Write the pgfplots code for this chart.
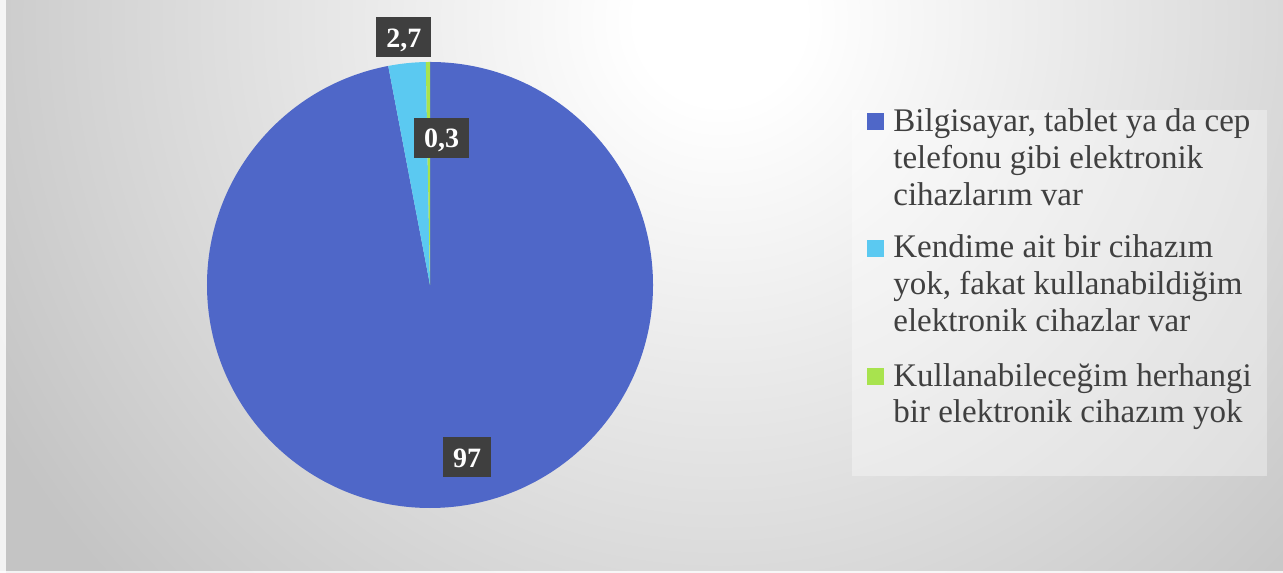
\documentclass[border=0pt]{standalone}
\usepackage{pgfplots}
\pgfplotsset{compat=1.18}
\usepackage{pgfplotstable}
\usepackage{fontspec}
\setmainfont{Liberation Serif}
\definecolor{pieblue}{HTML}{4F67C8}
\definecolor{piecyan}{HTML}{5BC9F1}
\definecolor{piegreen}{HTML}{A8E34E}
\definecolor{lblbox}{HTML}{3F3F3F}
\definecolor{legtext}{HTML}{404040}
\definecolor{bggray}{HTML}{C4C4C4}
\pgfdeclareradialshading{bgshade}{\pgfpointorigin}{color(0bp)=(white); color(2.5bp)=(white); color(25bp)=(bggray); color(50bp)=(bggray)}

\pgfplotstableread{
value
97
2.7
0.3
}\piedata

\pgfplotstableread{
x y lab
0.166 -0.773 97
-0.117 1.110 2,7
0.052 0.659 0,3
}\pielabels

\begin{document}
\begin{tikzpicture}[x=0.5bp,y=0.5bp]
% background
\fill[bggray] (0,0) rectangle (1283,573);
\begin{scope}
\clip (0,0) rectangle (1283,573);
\shade[shading=bgshade] (720,553) circle (830);
\end{scope}
\fill[white,opacity=0.8] (0,0) rectangle (6,573);
\fill[white,opacity=0.8] (0,0) rectangle (1283,2);

% cumulative angles from the data
\pgfplotstablegetelem{0}{value}\of\piedata \let\vA\pgfplotsretval
\pgfplotstablegetelem{1}{value}\of\piedata \let\vB\pgfplotsretval
\pgfplotstablegetelem{2}{value}\of\piedata \let\vC\pgfplotsretval
\pgfmathsetmacro\tot{\vA+\vB+\vC}
\pgfmathsetmacro\sc{360/\tot}
\pgfmathsetmacro\aA{90}
\pgfmathsetmacro\aB{\aA-\sc*\vA}
\pgfmathsetmacro\aC{\aB-\sc*\vB}
\pgfmathsetmacro\aD{\aC-\sc*\vC}

\coordinate (pc) at (430,288);
\begin{axis}[at={(pc)}, anchor=origin, x=111.5bp, y=111.5bp,
  xmin=-1.2, xmax=1.2, ymin=-1.2, ymax=1.2, hide axis, clip=false]
\fill[pieblue] (axis cs:0,0) -- (axis cs:{cos(\aA)},{sin(\aA)}) arc[start angle=\aA, end angle=\aB, radius=111.5bp] -- cycle;
\fill[piecyan] (axis cs:0,0) -- (axis cs:{cos(\aB)},{sin(\aB)}) arc[start angle=\aB, end angle=\aC, radius=111.5bp] -- cycle;
\fill[piegreen] (axis cs:0,0) -- (axis cs:{cos(\aC)},{sin(\aC)}) arc[start angle=\aC, end angle=\aD, radius=111.5bp] -- cycle;
\addplot[only marks, mark=none, nodes near coords, point meta=explicit symbolic,
  nodes near coords style={fill=lblbox, text=white, anchor=center,
    font=\fontsize{14bp}{16bp}\selectfont\bfseries,
    inner xsep=5bp, minimum height=20bp, text height=9.8bp, text depth=0bp}]
  table[x=x, y=y, meta=lab] {\pielabels};
\end{axis}

% legend
\fill[white,opacity=0.35] (852,97) rectangle (1267,463);
\fill[pieblue] (867,443) rectangle (884,460);
\fill[piecyan] (867,316) rectangle (884,333);
\fill[piegreen] (867,188) rectangle (884,205);
\begin{scope}[every node/.style={anchor=base west, inner sep=0pt, text=legtext,
  font=\fontsize{16.5bp}{18.5bp}\selectfont}]
\node at (893,441) {Bilgisayar, tablet ya da cep};
\node at (893,404) {telefonu gibi elektronik};
\node at (893,367) {cihazlarım var};
\node at (893,315) {Kendime ait bir cihazım};
\node at (893,278) {yok, fakat kullanabildiğim};
\node at (893,241) {elektronik cihazlar var};
\node at (893,186) {Kullanabileceğim herhangi};
\node at (893,150) {bir elektronik cihazım yok};
\end{scope}
\pgfresetboundingbox
\useasboundingbox (0,0) rectangle (1283,573);
\end{tikzpicture}
\end{document}
